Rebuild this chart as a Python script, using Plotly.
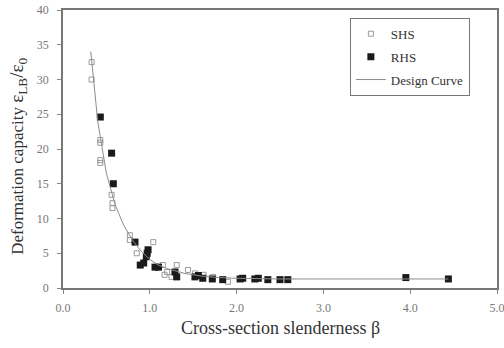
import plotly.graph_objects as go

# SHS (open squares)
shs_x = [0.33, 0.33, 0.43, 0.43, 0.43, 0.43, 0.56, 0.57, 0.57, 0.77, 0.77, 0.85, 1.04, 1.15, 1.17, 1.20, 1.25, 1.31, 1.44, 1.52, 1.62, 1.73, 1.90]
shs_y = [32.5, 30.0, 21.3, 20.9, 18.4, 18.0, 13.4, 12.2, 11.5, 7.6, 6.9, 5.0, 6.6, 3.3, 1.9, 2.3, 1.6, 3.3, 2.6, 2.1, 1.9, 1.6, 0.9]

# RHS (filled squares)
rhs_x = [0.43, 0.56, 0.58, 0.83, 0.89, 0.93, 0.96, 0.97, 0.98, 1.06, 1.10, 1.29, 1.31, 1.52, 1.56, 1.61, 1.72, 1.84, 2.04, 2.07, 2.21, 2.25, 2.36, 2.50, 2.59, 3.95, 4.44]
rhs_y = [24.6, 19.4, 15.0, 6.6, 3.3, 3.6, 4.5, 5.0, 5.5, 3.0, 3.0, 2.3, 1.6, 1.6, 1.8, 1.4, 1.3, 1.2, 1.3, 1.4, 1.3, 1.4, 1.2, 1.2, 1.2, 1.5, 1.3]

# Design curve
curve_x = [0.32, 0.40, 0.50, 0.60, 0.70, 0.80, 0.90, 1.00, 1.10, 1.20, 1.40, 1.60, 1.80, 2.00, 2.50, 3.00, 3.95, 4.44]
curve_y = [34.0, 24.0, 16.5, 12.0, 9.0, 6.9, 5.3, 4.1, 3.3, 2.8, 2.1, 1.7, 1.5, 1.4, 1.3, 1.3, 1.4, 1.3]

x_ticks = [0, 1, 2, 3, 4, 5]
x_labels = ["0.0", "1.0", "2.0", "3.0", "4.0", "5.0"]
y_ticks = [0, 5, 10, 15, 20, 25, 30, 35, 40]

x_title = "Cross-section slenderness β"
y_title = ("Deformation capacity "
           "<span style='font-size:19px'>ε<sub>LB</sub>/ε<sub>0</sub></span>")

serif = "Liberation Serif, Times New Roman, serif"

fig = go.Figure()
fig.add_trace(go.Scatter(
    x=shs_x, y=shs_y, mode="markers", name="SHS", legendgroup="a",
    marker=dict(symbol="square-open", size=5, color="#9a9a9a", line=dict(width=1, color="#9a9a9a")),
))
fig.add_trace(go.Scatter(
    x=rhs_x, y=rhs_y, mode="markers", name="RHS", legendgroup="b",
    marker=dict(symbol="square", size=7, color="#1a1a1a"),
))
fig.add_trace(go.Scatter(
    x=curve_x, y=curve_y, mode="lines", name="Design Curve", legendgroup="c",
    line=dict(color="#8c8c8c", width=1),
))

fig.update_layout(
    width=504, height=348,
    margin=dict(l=63, r=7, t=10, b=60),
    paper_bgcolor="white", plot_bgcolor="white",
    font=dict(family=serif, color="#444"),
    showlegend=True,
    legend=dict(
        x=0.661, y=0.972, xanchor="left", yanchor="top",
        bgcolor="white", bordercolor="#777", borderwidth=1,
        font=dict(family=serif, size=13, color="#333"),
        itemwidth=30, tracegroupgap=3,
    ),
    xaxis=dict(
        range=[0, 5], tickvals=x_ticks, ticktext=x_labels,
        showgrid=False, zeroline=False, automargin=False,
        showline=True, linecolor="#777", linewidth=1.5, mirror=True,
        ticks="outside", ticklen=4, tickcolor="#888",
        ticklabelstandoff=4, ticklabeloverflow="allow",
        tickfont=dict(family=serif, size=12, color="#777"),
    ),
    yaxis=dict(
        range=[0, 40], tickvals=y_ticks,
        showgrid=False, zeroline=False, automargin=False,
        showline=True, linecolor="#777", linewidth=1.5, mirror=True,
        ticks="outside", ticklen=4, tickcolor="#888",
        ticklabelstandoff=6,
        tickfont=dict(family=serif, size=12, color="#777"),
    ),
    annotations=[
        dict(text=x_title, xref="paper", yref="paper", x=0.5, y=-0.144,
             xanchor="center", yanchor="middle", showarrow=False,
             font=dict(family=serif, size=18, color="#333")),
        dict(text=y_title, xref="paper", yref="paper", x=-0.104, y=0.475,
             xanchor="center", yanchor="middle", showarrow=False, textangle=-90,
             font=dict(family=serif, size=17, color="#333")),
    ],
)

fig.write_html("out.html")
